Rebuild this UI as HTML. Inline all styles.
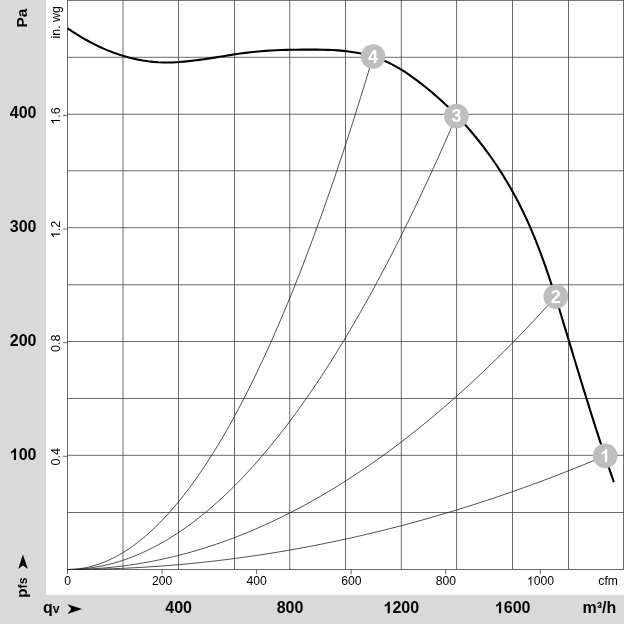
<!DOCTYPE html><html><head><meta charset="utf-8"><style>html,body{margin:0;padding:0;background:#fff}svg{display:block}text{font-family:"Liberation Sans",sans-serif}</style></head><body>
<svg width="624" height="624" viewBox="0 0 624 624">
<rect width="624" height="624" fill="#fff"/>
<rect x="0" y="0" width="46" height="624" fill="#d9d9d9"/>
<rect x="0" y="594.8" width="624" height="29.2" fill="#d9d9d9"/>
<path d="M67.5 0V569.5M123 0V569.5M178.5 0V569.5M234.5 0V569.5M289.75 0V569.5M345.5 0V569.5M401.3 0V569.5M456.6 0V569.5M512.5 0V569.5M568.5 0V569.5M623.5 0V569.5M67.5 569.5H624M67.5 512.5H624M67.5 455.3H624M67.5 398.5H624M67.5 341.5H624M67.5 284.8H624M67.5 227.7H624M67.5 170.8H624M67.5 114.25H624M67.5 57.3H624M67.5 0.4H624M67.5 569.5V574.1M162.07 569.5V574.1M256.63 569.5V574.1M351.2 569.5V574.1M445.76 569.5V574.1M540.33 569.5V574.1M63 456.3H67.5M63 342.67H67.5M63 229.04H67.5M63 115.41H67.5" stroke="#444" stroke-width="0.8" fill="none"/>
<path d="M67.5 569.5L70.52 569.5L73.54 569.49L76.56 569.47L79.58 569.44L82.6 569.41L85.62 569.37L88.65 569.32L91.67 569.27L94.69 569.21L97.71 569.14L100.73 569.07L103.75 568.98L106.77 568.89L109.79 568.8L112.81 568.69L115.83 568.58L118.85 568.46L121.87 568.34L124.89 568.2L127.92 568.06L130.94 567.92L133.96 567.76L136.98 567.6L140 567.43L143.02 567.26L146.04 567.07L149.06 566.88L152.08 566.69L155.1 566.48L158.12 566.27L161.14 566.05L164.17 565.83L167.19 565.59L170.21 565.35L173.23 565.1L176.25 564.85L179.27 564.59L182.29 564.32L185.31 564.04L188.33 563.76L191.35 563.47L194.37 563.17L197.39 562.86L200.41 562.55L203.44 562.23L206.46 561.91L209.48 561.57L212.5 561.23L215.52 560.88L218.54 560.53L221.56 560.17L224.58 559.8L227.6 559.42L230.62 559.04L233.64 558.64L236.66 558.25L239.68 557.84L242.71 557.43L245.73 557.01L248.75 556.58L251.77 556.15L254.79 555.71L257.81 555.26L260.83 554.8L263.85 554.34L266.87 553.87L269.89 553.39L272.91 552.91L275.93 552.41L278.96 551.92L281.98 551.41L285 550.9L288.02 550.38L291.04 549.85L294.06 549.31L297.08 548.77L300.1 548.22L303.12 547.67L306.14 547.1L309.16 546.53L312.18 545.96L315.2 545.37L318.23 544.78L321.25 544.18L324.27 543.57L327.29 542.96L330.31 542.34L333.33 541.71L336.35 541.08L339.37 540.43L342.39 539.78L345.41 539.13L348.43 538.46L351.45 537.79L354.47 537.11L357.5 536.43L360.52 535.74L363.54 535.04L366.56 534.33L369.58 533.61L372.6 532.89L375.62 532.16L378.64 531.43L381.66 530.69L384.68 529.94L387.7 529.18L390.72 528.41L393.74 527.64L396.77 526.86L399.79 526.08L402.81 525.29L405.83 524.49L408.85 523.68L411.87 522.86L414.89 522.04L417.91 521.21L420.93 520.38L423.95 519.53L426.97 518.68L429.99 517.82L433.02 516.96L436.04 516.09L439.06 515.21L442.08 514.32L445.1 513.43L448.12 512.53L451.14 511.62L454.16 510.7L457.18 509.78L460.2 508.85L463.22 507.92L466.24 506.97L469.26 506.02L472.29 505.06L475.31 504.1L478.33 503.13L481.35 502.15L484.37 501.16L487.39 500.17L490.41 499.16L493.43 498.16L496.45 497.14L499.47 496.12L502.49 495.09L505.51 494.05L508.53 493.01L511.56 491.95L514.58 490.9L517.6 489.83L520.62 488.76L523.64 487.68L526.66 486.59L529.68 485.5L532.7 484.39L535.72 483.28L538.74 482.17L541.76 481.05L544.78 479.92L547.81 478.78L550.83 477.63L553.85 476.48L556.87 475.32L559.89 474.16L562.91 472.98L565.93 471.8L568.95 470.61L571.97 469.42L574.99 468.22L578.01 467.01L581.03 465.79L584.05 464.57L587.08 463.34L590.1 462.1L593.12 460.85L596.14 459.6L599.16 458.34L602.18 457.07L605.2 455.8" stroke="#222" stroke-width="0.8" fill="none" stroke-linejoin="round"/>
<path d="M67.5 569.5L70.53 569.49L73.57 569.46L76.6 569.41L79.63 569.33L82.66 569.24L85.7 569.12L88.73 568.98L91.76 568.83L94.8 568.65L97.83 568.45L100.86 568.23L103.9 567.98L106.93 567.72L109.96 567.44L112.99 567.13L116.03 566.8L119.06 566.46L122.09 566.09L125.13 565.7L128.16 565.29L131.19 564.86L134.22 564.4L137.26 563.93L140.29 563.44L143.32 562.92L146.36 562.38L149.39 561.82L152.42 561.25L155.45 560.65L158.49 560.02L161.52 559.38L164.55 558.72L167.59 558.03L170.62 557.33L173.65 556.6L176.69 555.86L179.72 555.09L182.75 554.3L185.78 553.49L188.82 552.65L191.85 551.8L194.88 550.93L197.92 550.03L200.95 549.12L203.98 548.18L207.01 547.22L210.05 546.24L213.08 545.24L216.11 544.22L219.15 543.18L222.18 542.12L225.21 541.03L228.24 539.93L231.28 538.8L234.31 537.65L237.34 536.48L240.38 535.29L243.41 534.08L246.44 532.85L249.48 531.6L252.51 530.32L255.54 529.03L258.57 527.71L261.61 526.38L264.64 525.02L267.67 523.64L270.71 522.24L273.74 520.82L276.77 519.38L279.8 517.91L282.84 516.43L285.87 514.92L288.9 513.4L291.94 511.85L294.97 510.28L298 508.69L301.03 507.08L304.07 505.45L307.1 503.79L310.13 502.12L313.17 500.42L316.2 498.71L319.23 496.97L322.27 495.21L325.3 493.43L328.33 491.63L331.36 489.81L334.4 487.97L337.43 486.11L340.46 484.22L343.5 482.32L346.53 480.39L349.56 478.44L352.59 476.47L355.63 474.48L358.66 472.47L361.69 470.44L364.73 468.39L367.76 466.31L370.79 464.22L373.82 462.1L376.86 459.97L379.89 457.81L382.92 455.63L385.96 453.43L388.99 451.21L392.02 448.96L395.06 446.7L398.09 444.42L401.12 442.11L404.15 439.78L407.19 437.43L410.22 435.07L413.25 432.68L416.29 430.27L419.32 427.83L422.35 425.38L425.38 422.91L428.42 420.41L431.45 417.89L434.48 415.36L437.52 412.8L440.55 410.22L443.58 407.62L446.61 405L449.65 402.36L452.68 399.69L455.71 397.01L458.75 394.3L461.78 391.57L464.81 388.83L467.85 386.06L470.88 383.27L473.91 380.46L476.94 377.62L479.98 374.77L483.01 371.9L486.04 369L489.08 366.09L492.11 363.15L495.14 360.19L498.17 357.21L501.21 354.21L504.24 351.19L507.27 348.15L510.31 345.08L513.34 342L516.37 338.89L519.4 335.76L522.44 332.62L525.47 329.45L528.5 326.26L531.54 323.05L534.57 319.81L537.6 316.56L540.64 313.29L543.67 309.99L546.7 306.68L549.73 303.34L552.77 299.98L555.8 296.6" stroke="#222" stroke-width="0.8" fill="none" stroke-linejoin="round"/>
<path d="M67.5 569.5L70.54 569.47L73.58 569.39L76.61 569.25L79.65 569.06L82.69 568.81L85.73 568.5L88.77 568.14L91.81 567.73L94.84 567.26L97.88 566.73L100.92 566.15L103.96 565.51L107 564.82L110.04 564.07L113.07 563.27L116.11 562.41L119.15 561.5L122.19 560.53L125.23 559.51L128.27 558.43L131.3 557.29L134.34 556.1L137.38 554.86L140.42 553.56L143.46 552.2L146.5 550.79L149.53 549.32L152.57 547.8L155.61 546.22L158.65 544.59L161.69 542.9L164.72 541.16L167.76 539.36L170.8 537.5L173.84 535.59L176.88 533.63L179.92 531.61L182.95 529.53L185.99 527.4L189.03 525.21L192.07 522.97L195.11 520.67L198.15 518.32L201.18 515.91L204.22 513.45L207.26 510.93L210.3 508.36L213.34 505.73L216.38 503.04L219.41 500.3L222.45 497.51L225.49 494.65L228.53 491.75L231.57 488.79L234.61 485.77L237.64 482.7L240.68 479.57L243.72 476.39L246.76 473.15L249.8 469.85L252.84 466.5L255.87 463.1L258.91 459.64L261.95 456.12L264.99 452.55L268.03 448.93L271.06 445.25L274.1 441.51L277.14 437.72L280.18 433.87L283.22 429.97L286.26 426.01L289.29 422L292.33 417.93L295.37 413.8L298.41 409.62L301.45 405.39L304.49 401.1L307.52 396.75L310.56 392.35L313.6 387.9L316.64 383.38L319.68 378.82L322.72 374.19L325.75 369.52L328.79 364.78L331.83 359.99L334.87 355.15L337.91 350.25L340.95 345.3L343.98 340.29L347.02 335.22L350.06 330.1L353.1 324.92L356.14 319.69L359.17 314.41L362.21 309.06L365.25 303.67L368.29 298.21L371.33 292.71L374.37 287.14L377.4 281.52L380.44 275.85L383.48 270.12L386.52 264.33L389.56 258.49L392.6 252.6L395.63 246.65L398.67 240.64L401.71 234.58L404.75 228.46L407.79 222.29L410.83 216.06L413.86 209.78L416.9 203.44L419.94 197.05L422.98 190.6L426.02 184.09L429.06 177.53L432.09 170.92L435.13 164.25L438.17 157.52L441.21 150.74L444.25 143.9L447.29 137.01L450.32 130.06L453.36 123.06L456.4 116" stroke="#222" stroke-width="0.8" fill="none" stroke-linejoin="round"/>
<path d="M67.5 569.5L70.56 569.45L73.61 569.29L76.67 569.04L79.72 568.68L82.78 568.22L85.83 567.65L88.89 566.99L91.94 566.22L95 565.34L98.06 564.37L101.11 563.29L104.17 562.11L107.22 560.83L110.28 559.45L113.33 557.96L116.39 556.37L119.44 554.67L122.5 552.88L125.55 550.98L128.61 548.98L131.67 546.88L134.72 544.67L137.78 542.36L140.83 539.95L143.89 537.44L146.94 534.82L150 532.1L153.05 529.28L156.11 526.36L159.17 523.33L162.22 520.2L165.28 516.97L168.33 513.63L171.39 510.2L174.44 506.66L177.5 503.02L180.55 499.27L183.61 495.42L186.66 491.47L189.72 487.42L192.78 483.26L195.83 479.01L198.89 474.65L201.94 470.18L205 465.62L208.05 460.95L211.11 456.18L214.16 451.3L217.22 446.33L220.28 441.25L223.33 436.07L226.39 430.78L229.44 425.4L232.5 419.91L235.55 414.32L238.61 408.62L241.66 402.83L244.72 396.93L247.77 390.92L250.83 384.82L253.89 378.61L256.94 372.3L260 365.89L263.05 359.38L266.11 352.76L269.16 346.04L272.22 339.21L275.27 332.29L278.33 325.26L281.38 318.13L284.44 310.9L287.5 303.56L290.55 296.12L293.61 288.58L296.66 280.94L299.72 273.19L302.77 265.34L305.83 257.39L308.88 249.34L311.94 241.18L315 232.92L318.05 224.56L321.11 216.09L324.16 207.53L327.22 198.86L330.27 190.09L333.33 181.21L336.38 172.23L339.44 163.15L342.5 153.97L345.55 144.68L348.61 135.3L351.66 125.81L354.72 116.21L357.77 106.52L360.83 96.72L363.88 86.82L366.94 76.81L369.99 66.71L373.05 56.5" stroke="#222" stroke-width="0.8" fill="none" stroke-linejoin="round"/>
<path d="M67.53 28.32L71.78 31.2L76.11 33.99L80.51 36.69L84.99 39.29L89.55 41.79L94.16 44.18L98.84 46.45L103.58 48.6L108.36 50.62L113.2 52.5L118.08 54.24L123 55.83L127.96 57.27L132.95 58.54L137.96 59.65L143 60.58L148.06 61.33L153.13 61.89L158.21 62.26L163.3 62.44L168.4 62.46L173.51 62.33L178.63 62.06L183.75 61.67L188.87 61.17L194 60.58L199.13 59.91L204.27 59.18L209.41 58.4L214.55 57.59L219.69 56.76L224.83 55.93L229.96 55.11L235.1 54.32L240.23 53.57L245.36 52.88L250.48 52.26L255.6 51.72L260.72 51.26L265.84 50.87L270.96 50.54L276.08 50.27L281.2 50.06L286.34 49.89L291.48 49.77L296.63 49.68L301.79 49.63L306.97 49.6L312.17 49.6L317.37 49.62L322.58 49.69L327.8 49.83L333 50.06L338.2 50.39L343.37 50.84L348.52 51.43L353.64 52.18L358.72 53.09L363.75 54.17L368.72 55.43L373.63 56.87L378.47 58.5L383.23 60.32L387.9 62.36L392.48 64.6L396.97 67.05L401.37 69.67L405.69 72.45L409.94 75.35L414.14 78.35L418.28 81.41L422.37 84.55L426.4 87.75L430.39 91.03L434.32 94.36L438.2 97.76L442.03 101.23L445.8 104.75L449.52 108.33L453.18 111.97L456.79 115.67L460.35 119.43L463.85 123.24L467.29 127.1L470.67 131.01L474 134.98L477.28 138.99L480.49 143.05L483.65 147.15L486.75 151.3L489.79 155.5L492.77 159.73L495.69 164.01L498.56 168.33L501.36 172.68L504.1 177.07L506.79 181.49L509.41 185.95L511.97 190.44L514.47 194.97L516.91 199.52L519.28 204.1L521.59 208.71L523.84 213.34L526.03 218L528.16 222.68L530.24 227.38L532.26 232.11L534.24 236.85L536.16 241.62L538.04 246.4L539.88 251.2L541.68 256.02L543.44 260.85L545.16 265.7L546.85 270.56L548.52 275.44L550.15 280.32L551.76 285.22L553.34 290.12L554.91 295.03L556.46 299.95L557.99 304.88L559.51 309.81L561.02 314.75L562.52 319.69L564.02 324.63L565.52 329.57L567.01 334.51L568.5 339.46L569.99 344.4L571.49 349.35L572.98 354.29L574.47 359.23L575.97 364.18L577.47 369.12L578.97 374.06L580.48 379L581.99 383.94L583.5 388.87L585.02 393.81L586.55 398.74L588.08 403.67L589.62 408.6L591.16 413.52L592.72 418.44L594.28 423.36L595.85 428.28L597.43 433.19L599.02 438.09L600.62 443L602.24 447.89L603.86 452.79L605.5 457.68L607.15 462.56L608.81 467.44L610.49 472.32L612.18 477.18L613.88 482.05" stroke="#000" stroke-width="2.1" fill="none" stroke-linejoin="round"/>
<g opacity="0.999">
<circle cx="605.2" cy="455.8" r="12.35" fill="#bebebe"/>
<g transform="translate(605.2 462.2)"><path transform="translate(-5 0) scale(0.00879 -0.00879)" d="M806 0H525V1059Q371 915 162 846V1101Q272 1137 401 1237.5Q530 1338 578 1472H806Z" fill="#fff"/></g>
<circle cx="555.8" cy="296.6" r="12.35" fill="#bebebe"/>
<g transform="translate(555.8 303)"><text x="-5" y="0" font-size="18" font-weight="bold" fill="#fff">2</text></g>
<circle cx="456.4" cy="116" r="12.35" fill="#bebebe"/>
<g transform="translate(456.4 122.4)"><text x="-5" y="0" font-size="18" font-weight="bold" fill="#fff">3</text></g>
<circle cx="373.05" cy="56.5" r="12.35" fill="#bebebe"/>
<g transform="translate(373.05 62.9)"><text x="-5" y="0" font-size="18" font-weight="bold" fill="#fff">4</text></g>
<g transform="translate(23.1 460.1)"><text x="-4.45 4.45" y="0" font-size="16" font-weight="bold" fill="#000">00</text><path transform="translate(-13.34 0) scale(0.00781 -0.00781)" d="M806 0H525V1059Q371 915 162 846V1101Q272 1137 401 1237.5Q530 1338 578 1472H806Z" fill="#000"/></g>
<g transform="translate(23.1 346.07)"><text x="-13.34 -4.45 4.45" y="0" font-size="16" font-weight="bold" fill="#000">200</text></g>
<g transform="translate(23.1 232.04)"><text x="-13.34 -4.45 4.45" y="0" font-size="16" font-weight="bold" fill="#000">300</text></g>
<g transform="translate(23.1 118.01)"><text x="-13.34 -4.45 4.45" y="0" font-size="16" font-weight="bold" fill="#000">400</text></g>
<g transform="translate(59.9 456.8) rotate(-90)"><text x="-8.76 -1.75 1.75" y="0" font-size="12.6" fill="#000">0.4</text></g>
<g transform="translate(59.9 343.17) rotate(-90)"><text x="-8.76 -1.75 1.75" y="0" font-size="12.6" fill="#000">0.8</text></g>
<g transform="translate(59.9 229.54) rotate(-90)"><text x="-1.75 1.75" y="0" font-size="12.6" fill="#000">.2</text><path transform="translate(-8.76 0) scale(0.00615 -0.00615)" d="M763 0H583V1147Q518 1085 412.5 1023Q307 961 223 930V1104Q374 1175 487 1276Q600 1377 647 1472H763Z" fill="#000"/></g>
<g transform="translate(59.9 115.91) rotate(-90)"><text x="-1.75 1.75" y="0" font-size="12.6" fill="#000">.6</text><path transform="translate(-8.76 0) scale(0.00615 -0.00615)" d="M763 0H583V1147Q518 1085 412.5 1023Q307 961 223 930V1104Q374 1175 487 1276Q600 1377 647 1472H763Z" fill="#000"/></g>
<g transform="translate(59.9 22.3) rotate(-90)"><text x="-16.19 -13.44 -6.55 0.35 9.3" y="0" font-size="12.4" fill="#000">in.wg</text></g>
<g transform="translate(26.7 18.2) rotate(-90)"><text x="-9.42 0.85" y="0" font-size="15.4" font-weight="bold" fill="#000">Pa</text></g>
<text transform="translate(26.9 597.7) rotate(-90)" font-weight="bold"><tspan font-size="15.2">p</tspan><tspan font-size="12.3">fs</tspan></text>
<path d="M22.9 554.6 L18.2 568.9 L22.9 565.6 L27.9 568.9Z" fill="#000"/>
<text x="43" y="613.3" font-weight="bold"><tspan font-size="16">q</tspan><tspan font-size="12.3">v</tspan></text>
<path d="M82.1 609.1 L67.5 604.3 L71.3 609.1 L67.5 614.1Z" fill="#000"/>
<g transform="translate(67.6 585.3)"><text x="-3.39" y="0" font-size="12.2" fill="#000">0</text></g>
<g transform="translate(162.17 585.3)"><text x="-10.17 -3.39 3.39" y="0" font-size="12.2" fill="#000">200</text></g>
<g transform="translate(256.73 585.3)"><text x="-10.17 -3.39 3.39" y="0" font-size="12.2" fill="#000">400</text></g>
<g transform="translate(351.3 585.3)"><text x="-10.17 -3.39 3.39" y="0" font-size="12.2" fill="#000">600</text></g>
<g transform="translate(445.86 585.3)"><text x="-10.17 -3.39 3.39" y="0" font-size="12.2" fill="#000">800</text></g>
<g transform="translate(540.43 585.3)"><text x="-6.78 0 6.78" y="0" font-size="12.2" fill="#000">000</text><path transform="translate(-13.57 0) scale(0.00596 -0.00596)" d="M763 0H583V1147Q518 1085 412.5 1023Q307 961 223 930V1104Q374 1175 487 1276Q600 1377 647 1472H763Z" fill="#000"/></g>
<g transform="translate(608.1 585.3)"><text x="-9.83 -3.73 -0.34" y="0" font-size="12.2" fill="#000">cfm</text></g>
<g transform="translate(178.64 613.3)"><text x="-13.34 -4.45 4.45" y="0" font-size="16" font-weight="bold" fill="#000">400</text></g>
<g transform="translate(289.98 613.3)"><text x="-13.34 -4.45 4.45" y="0" font-size="16" font-weight="bold" fill="#000">800</text></g>
<g transform="translate(401.32 613.3)"><text x="-8.9 0 8.9" y="0" font-size="16" font-weight="bold" fill="#000">200</text><path transform="translate(-17.79 0) scale(0.00781 -0.00781)" d="M806 0H525V1059Q371 915 162 846V1101Q272 1137 401 1237.5Q530 1338 578 1472H806Z" fill="#000"/></g>
<g transform="translate(512.66 613.3)"><text x="-8.9 0 8.9" y="0" font-size="16" font-weight="bold" fill="#000">600</text><path transform="translate(-17.79 0) scale(0.00781 -0.00781)" d="M806 0H525V1059Q371 915 162 846V1101Q272 1137 401 1237.5Q530 1338 578 1472H806Z" fill="#000"/></g>
<g transform="translate(599.4 613.3)"><text x="-16.89 -2.66 2.66 7.11" y="0" font-size="16" font-weight="bold" fill="#000">m³/h</text></g>
</g>
</svg></body></html>
